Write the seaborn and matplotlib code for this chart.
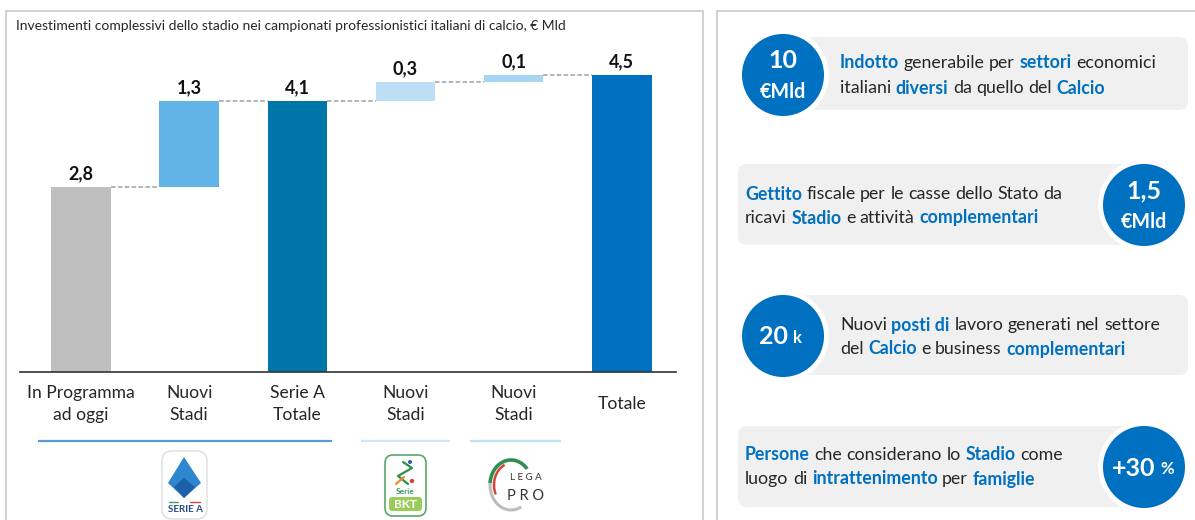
import matplotlib
matplotlib.use("Agg")
import matplotlib.pyplot as plt
import seaborn as sns
import pandas as pd
import numpy as np
from matplotlib.patches import FancyBboxPatch, Circle, Rectangle, Polygon, Arc

categories = ["In Programma\nad oggi", "Nuovi\nStadi", "Serie A\nTotale", "Nuovi\nStadi", "Nuovi\nStadi", "Totale"]
values = [2.8, 1.3, 4.1, 0.3, 0.1, 4.5]
bottoms = [0, 2.8, 0, 4.1, 4.4, 0]
value_labels = ["2,8", "1,3", "4,1", "0,3", "0,1", "4,5"]
bar_colors = ["#BFBFBF", "#63B4E6", "#0075A8", "#BDDFF5", "#A5D5F2", "#0070C0"]
title = "Investimenti complessivi dello stadio nei campionati professionistici italiani di calcio, € Mld"

BLUE = "#0070C0"
TXT = "#262626"

sns.set_theme(style="white")
plt.rcParams["font.family"] = ["Lato", "DejaVu Sans"]

W, H = 1195, 520
fig = plt.figure(figsize=(W / 100, H / 100), dpi=100, facecolor="white")

# pixel canvas for frames, cards and logos
bg = fig.add_axes([0, 0, 1, 1], zorder=0)
bg.set_xlim(0, W)
bg.set_ylim(H, 0)
bg.axis("off")

for x0, x1 in [(6, 703), (717, 1230)]:
    bg.add_patch(Rectangle((x0, 11), x1 - x0, 540, fc="white", ec="#C9C9C9", lw=1.2))

bg.text(16, 26, title, fontsize=10, color=TXT, va="center", ha="left")

# waterfall chart
left, right, top, base = 20, 676, 40, 372
ax = fig.add_axes([left / W, 1 - base / H, (right - left) / W, (base - top) / H], zorder=2)
ax.patch.set_alpha(0)
df = pd.DataFrame({"pos": list(range(len(values))), "value": values})
bar_w = 0.55
sns.barplot(data=df, x="pos", y="value", bottom=bottoms, width=bar_w, errorbar=None,
            color=bar_colors[0], saturation=1, ax=ax, linewidth=0)
for patch, c in zip(ax.patches, bar_colors):
    patch.set_facecolor(c)
ax.set_xlim(-0.564, 5.5)
ax.set_ylim(0, (base - top) / 66)
ax.set_xlabel("")
ax.set_ylabel("")
ax.set_yticks([])
ax.set_xticks(range(len(categories)))
ax.set_xticklabels(categories, fontsize=12.6, color=TXT, va="center", linespacing=1.42)
ax.tick_params(axis="x", length=0, pad=23)
sns.despine(ax=ax, left=True)
ax.spines["bottom"].set_color("#333333")
ax.spines["bottom"].set_linewidth(1.2)

tops = [b + v for b, v in zip(bottoms, values)]
for i in range(len(values) - 1):
    ax.plot([i + bar_w / 2, i + 1 - bar_w / 2], [tops[i], tops[i]], color="#A0A0A0", lw=1.1,
            ls=(0, (3, 1.5)))
for i, lab in enumerate(value_labels):
    ax.annotate(lab, (i, tops[i]), xytext=(0, 9.5), textcoords="offset points", ha="center",
                va="center", fontsize=13, fontweight="bold", color="#111111")

# league underlines
for x0, x1, c in [(38, 332, "#5B9BD5"), (361, 450, "#CFE8F7"), (470, 561, "#BFE0F5")]:
    bg.plot([x0, x1], [441, 441], color=c, lw=1.6, solid_capstyle="butt")

# Serie A logo
bg.add_patch(FancyBboxPatch((162, 451), 45, 68, boxstyle="round,pad=0,rounding_size=10",
                            fc="white", ec="#DDDDDD", lw=1))
bg.add_patch(Polygon([(184, 457), (201, 483), (184, 498), (168, 483)], fc="#2F86D0", ec="none"))
bg.add_patch(Polygon([(184, 478), (195, 487), (184, 498), (174, 487)], fc="#1D5FA8", ec="none"))
bg.plot([169, 178], [502, 502], color="#3FA35B", lw=1)
bg.plot([190, 200], [502, 502], color="#D8453C", lw=1)
bg.text(185, 510, "SERIE A", fontsize=7, fontweight="bold", color="#2B4C8C", ha="center", va="center")

# Serie BKT logo
bg.add_patch(FancyBboxPatch((385, 455), 41, 61, boxstyle="round,pad=0,rounding_size=8",
                            fc="white", ec="#58A86A", lw=1.2))
bg.plot([403, 412, 398, 408], [462, 468, 476, 484], color="#2F8F4F", lw=1.6)
bg.plot([396, 404], [484, 477], color="#E98B2A", lw=1.6)
bg.add_patch(Circle((410, 462), 2, fc="#2B5FA8", ec="none"))
bg.add_patch(Circle((412, 481), 2.2, fc="#D8453C", ec="none"))
bg.text(405, 491, "Serie", fontsize=6, fontweight="bold", color="#3B9A57", ha="center", va="center")
bg.add_patch(FancyBboxPatch((389, 497), 33, 14, boxstyle="round,pad=0,rounding_size=3",
                            fc="#9BCB5A", ec="none"))
bg.text(405.5, 504, "BKT", fontsize=8.5, fontweight="bold", color="white", ha="center", va="center")

# Lega Pro logo
bg.add_patch(Arc((511, 485), 42, 50, theta1=185, theta2=315, ec="#2F8F4F", lw=2.6))
bg.add_patch(Arc((512, 485), 36, 44, theta1=150, theta2=250, ec="#D8453C", lw=1.8))
bg.add_patch(Arc((511, 485), 42, 50, theta1=65, theta2=185, ec="#BDBDBD", lw=2.2))
bg.text(526, 478, "L E G A", fontsize=7, color="#333333", ha="center", va="center")
bg.text(526, 496, "P R O", fontsize=10.5, color="#333333", ha="center", va="center")

# cards
renderer = fig.canvas.get_renderer()


def draw_words(x, y, parts, fs=12.8):
    """parts: list of (text, is_blue); written one after another from x."""
    space = bg.text(0, 0, "a a", fontsize=fs)
    a = bg.text(0, 0, "aa", fontsize=fs)
    sp = space.get_window_extent(renderer).width - a.get_window_extent(renderer).width
    space.remove()
    a.remove()
    for word, hi in parts:
        t = bg.text(x, y, word, fontsize=fs, va="center", ha="left",
                    color=BLUE if hi else TXT, fontweight="bold" if hi else "normal")
        x += t.get_window_extent(renderer).width + sp


cards = [
    dict(box=(783, 37, 405, 73), c=(783, 75), top="10", sub="€Mld",
         x=840,
         lines=[[("Indotto", 1), ("generabile", 0), ("per", 0), ("settori", 1), ("economici", 0)],
                [("italiani", 0), ("diversi", 1), ("da", 0), ("quello", 0), ("del", 0), ("Calcio", 1)]],
         ys=(63, 88)),
    dict(box=(738, 164, 406, 81), c=(1144, 205), top="1,5", sub="€Mld",
         x=745,
         lines=[[("Gettito", 1), ("fiscale", 0), ("per", 0), ("le", 0), ("casse", 0), ("dello", 0), ("Stato", 0), ("da", 0)],
                [("ricavi", 0), ("Stadio", 1), ("e", 0), ("attività", 0), ("complementari", 1)]],
         ys=(194, 218)),
    dict(box=(783, 295, 405, 80), c=(783, 336), inline=("20", "k"),
         x=840,
         lines=[[("Nuovi", 0), ("posti di", 1), ("lavoro", 0), ("generati", 0), ("nel", 0), ("settore", 0)],
                [("del", 0), ("Calcio", 1), ("e", 0), ("business", 0), ("complementari", 1)]],
         ys=(325, 349)),
    dict(box=(738, 426, 406, 81), c=(1144, 467), inline=("+30", "%"),
         x=745,
         lines=[[("Persone", 1), ("che", 0), ("considerano", 0), ("lo", 0), ("Stadio", 1), ("come", 0)],
                [("luogo", 0), ("di", 0), ("intrattenimento", 1), ("per", 0), ("famiglie", 1)]],
         ys=(455, 479)),
]
for card in cards:
    bx, by, bw, bh = card["box"]
    bg.add_patch(FancyBboxPatch((bx, by), bw, bh, boxstyle="round,pad=0,rounding_size=9",
                                fc="#F0F0F0", ec="none"))
    cx, cy = card["c"]
    bg.add_patch(Circle((cx, cy), 46, fc="white", ec="none"))
    bg.add_patch(Circle((cx, cy), 41, fc=BLUE, ec="none"))
    if "top" in card:
        bg.text(cx, cy - 14, card["top"], fontsize=18, fontweight="bold", color="white", ha="center", va="center")
        bg.text(cx, cy + 17, card["sub"], fontsize=14.2, fontweight="bold", color="white", ha="center", va="center")
    else:
        big, small = card["inline"]
        t1 = bg.text(cx - 24 if big == "20" else cx - 32, cy + 1, big, fontsize=18, fontweight="bold", color="white", ha="left", va="center")
        e = t1.get_window_extent(renderer)
        bg.text(e.x1 + 5, cy + 2, small, fontsize=12, fontweight="bold", color="white", ha="left", va="center")
    for parts, yy in zip(card["lines"], card["ys"]):
        draw_words(card["x"], yy, parts)

fig.savefig("out.png", dpi=100)
